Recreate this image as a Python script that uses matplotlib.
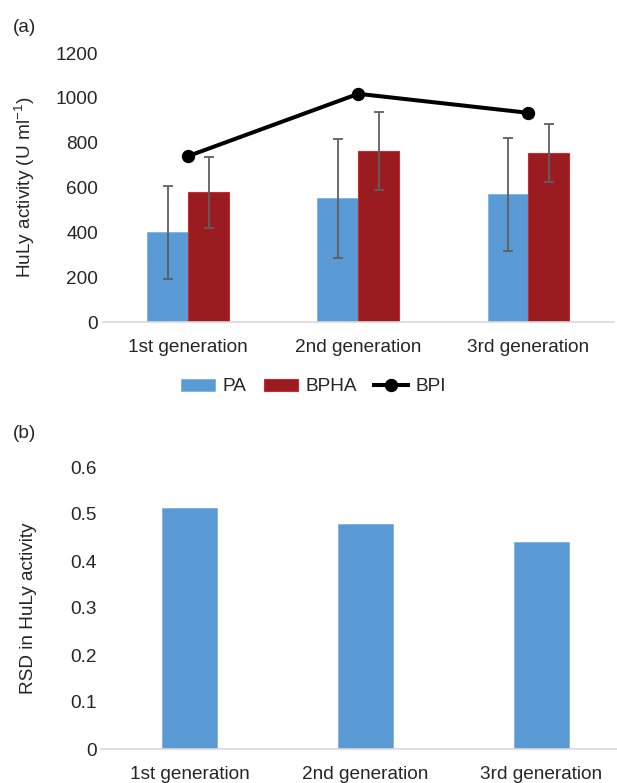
import matplotlib
matplotlib.use("Agg")
import matplotlib.pyplot as plt
import numpy as np
from matplotlib.patches import Patch
from matplotlib.lines import Line2D

plt.rcParams['font.family'] = ['Liberation Sans', 'DejaVu Sans']
plt.rcParams['mathtext.fontset'] = 'custom'
plt.rcParams['mathtext.rm'] = 'Liberation Sans'
plt.rcParams['mathtext.it'] = 'Liberation Sans:italic'

categories = ["1st generation", "2nd generation", "3rd generation"]
pa = [400, 551, 569]
pa_err = [208, 265, 251]
bpha = [578, 764, 754]
bpha_err = [158, 173, 128]
bpi = [740, 1018, 933]
rsd = [0.512, 0.479, 0.441]
yticks_a = [0, 200, 400, 600, 800, 1000, 1200]
yticks_b = [0, 0.1, 0.2, 0.3, 0.4, 0.5, 0.6]
ytick_labels_b = ["0", "0.1", "0.2", "0.3", "0.4", "0.5", "0.6"]

W, H = 617, 783
fig = plt.figure(figsize=(W / 100, H / 100), dpi=100)

FS = 13.7
blue = "#5B9BD5"
red = "#9A1B20"
red_edge = "#CC2A30"
err_col = "#5F5F5F"
axis_col = "#D9D9D9"
text_col = "#262626"


def px_axes(left, top, right, bottom):
    return fig.add_axes([left / W, 1 - bottom / H, (right - left) / W, (bottom - top) / H])


def style(ax, xpad):
    for s in ("top", "right", "left"):
        ax.spines[s].set_visible(False)
    ax.spines["bottom"].set_color(axis_col)
    ax.spines["bottom"].set_linewidth(1.2)
    ax.tick_params(axis="both", length=0, labelsize=FS, colors=text_col)
    ax.tick_params(axis="x", pad=xpad)
    ax.tick_params(axis="y", pad=3.6)


x = np.arange(len(categories))

# Panel (a)
ax1 = px_axes(103, 53, 613.5, 322)
w = 0.24
ax1.bar(x - w / 2, pa, w, color=blue, edgecolor="#7FB1E0", linewidth=0.6, zorder=2)
ax1.bar(x + w / 2, bpha, w, color=red, edgecolor=red_edge, linewidth=0.8, zorder=2)
ax1.errorbar(x - w / 2, pa, yerr=pa_err, fmt="none", ecolor=err_col,
             elinewidth=1.3, capsize=3.5, capthick=1.3, zorder=3)
ax1.errorbar(x + w / 2, bpha, yerr=bpha_err, fmt="none", ecolor=err_col,
             elinewidth=1.3, capsize=3.5, capthick=1.3, zorder=3)
ax1.plot(x, bpi, color="black", linewidth=2.9, marker="o", markersize=8.6, zorder=4)
ax1.set_xlim(-0.5, 2.5)
ax1.set_ylim(0, 1200)
ax1.set_yticks(yticks_a)
ax1.set_yticklabels([str(v) for v in yticks_a])
ax1.set_xticks(x)
ax1.set_xticklabels(categories)
style(ax1, 12)
ax1.set_ylabel(r"HuLy activity (U ml$^{-1}$)", fontsize=FS, color=text_col)
ax1.yaxis.set_label_coords((37 - 103) / 510.5, 0.5)

handles = [
    Patch(facecolor=blue, edgecolor="#7FB1E0", linewidth=0.6),
    Patch(facecolor=red, edgecolor=red_edge, linewidth=0.8),
    Line2D([0], [0], color="black", linewidth=2.9, marker="o", markersize=8.6),
]
leg = fig.legend(handles, ["PA", "BPHA", "BPI"], loc="center",
                 bbox_to_anchor=(313.5 / W, 1 - 387 / H), ncol=3, frameon=False,
                 fontsize=FS, handlelength=1.8, handleheight=0.6,
                 handletextpad=0.4, columnspacing=0.9, borderpad=0)
for t in leg.get_texts():
    t.set_color(text_col)

fig.text(13 / W, 1 - 27 / H, "(a)", fontsize=FS, color=text_col, va="center", ha="left")
fig.text(13 / W, 1 - 433 / H, "(b)", fontsize=FS, color=text_col, va="center", ha="left")

# Panel (b)
ax2 = px_axes(101.5, 467, 629.5, 749)
ax2.bar(x, rsd, 0.31, color=blue, edgecolor="#7FB1E0", linewidth=0.6, zorder=2)
ax2.set_xlim(-0.5, 2.5)
ax2.set_ylim(0, 0.6)
ax2.set_yticks(yticks_b)
ax2.set_yticklabels(ytick_labels_b)
ax2.set_xticks(x)
ax2.set_xticklabels(categories)
style(ax2, 12.5)
ax2.set_ylabel("RSD in HuLy activity", fontsize=FS, color=text_col)
ax2.yaxis.set_label_coords((37 - 101.5) / 528, 0.5)

fig.savefig("out.png", dpi=100)
